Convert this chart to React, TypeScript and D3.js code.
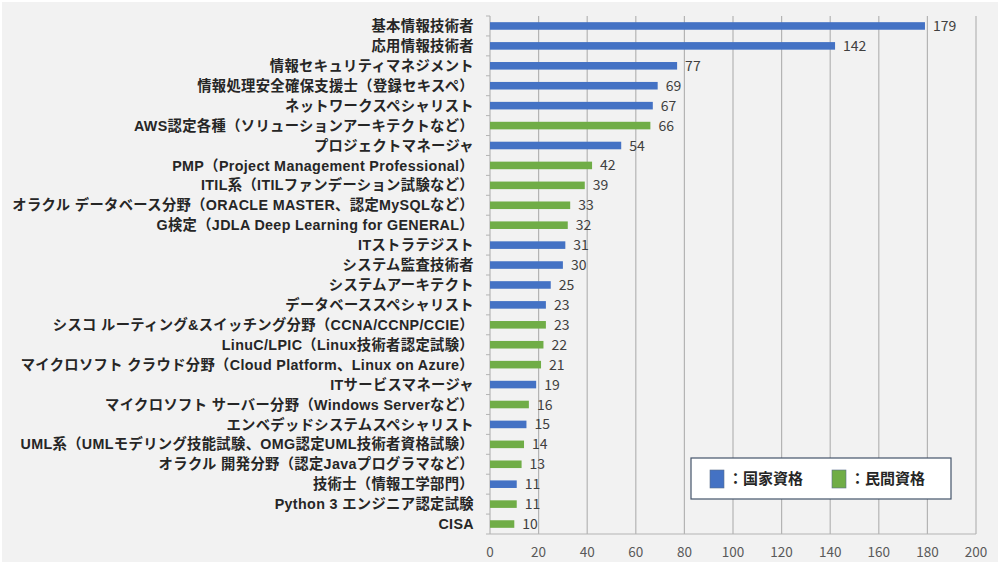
import React from "react";
import * as d3 from "d3";

const categories: string[] = [
  "基本情報技術者",
  "応用情報技術者",
  "情報セキュリティマネジメント",
  "情報処理安全確保支援士（登録セキスペ）",
  "ネットワークスペシャリスト",
  "AWS認定各種（ソリューションアーキテクトなど）",
  "プロジェクトマネージャ",
  "PMP（Project Management Professional）",
  "ITIL系（ITILファンデーション試験など）",
  "オラクル データベース分野（ORACLE MASTER、認定MySQLなど）",
  "G検定（JDLA Deep Learning for GENERAL）",
  "ITストラテジスト",
  "システム監査技術者",
  "システムアーキテクト",
  "データベーススペシャリスト",
  "シスコ ルーティング&スイッチング分野（CCNA/CCNP/CCIE）",
  "LinuC/LPIC（Linux技術者認定試験）",
  "マイクロソフト クラウド分野（Cloud Platform、Linux on Azure）",
  "ITサービスマネージャ",
  "マイクロソフト サーバー分野（Windows Serverなど）",
  "エンベデッドシステムスペシャリスト",
  "UML系（UMLモデリング技能試験、OMG認定UML技術者資格試験）",
  "オラクル 開発分野（認定Javaプログラマなど）",
  "技術士（情報工学部門）",
  "Python 3 エンジニア認定試験",
  "CISA",
];

const values: number[] = [
  179, 142, 77, 69, 67, 66, 54, 42, 39, 33, 32, 31, 30, 25, 23, 23, 22, 21, 19,
  16, 15, 14, 13, 11, 11, 10,
];

// "national" = 国家資格, "private" = 民間資格
const types: string[] = [
  "national", "national", "national", "national", "national", "private",
  "national", "private", "private", "private", "private", "national",
  "national", "national", "national", "private", "private", "private",
  "national", "private", "national", "private", "private", "national",
  "private", "private",
];

const xTicks: number[] = [0, 20, 40, 60, 80, 100, 120, 140, 160, 180, 200];
const legendLabels: string[] = ["：国家資格", "：民間資格"];
const legendKeys: string[] = ["national", "private"];

const W = 1000;
const H = 564;
const M = { left: 490, right: 24, top: 16, bottom: 30 };

export default function App() {
  const x = d3.scaleLinear().domain([0, 200]).range([M.left, W - M.right]);
  const y = d3
    .scaleBand<string>()
    .domain(categories)
    .range([M.top, H - M.bottom])
    .paddingInner(0.62)
    .paddingOuter(0.31);
  const color = d3
    .scaleOrdinal<string, string>()
    .domain(["national", "private"])
    .range(["#4472c4", "#70ad47"]);

  const step = y.step();
  const y0 = M.top;
  const y1 = H - M.bottom;
  const font = "'Noto Sans CJK JP', 'Noto Sans', sans-serif";
  const labelFont = "'Liberation Sans', 'Noto Sans CJK JP', sans-serif";
  const boundaries = d3.range(categories.length + 1).map((i) => y0 + i * step);

  return (
    <svg
      width={W}
      height={H}
      style={{ position: "absolute", left: 0, top: 0, display: "block" }}
      fontFamily={font}
    >
      <rect x={0} y={0} width={W} height={H} fill="#ffffff" />
      <rect x={2} y={2} width={W - 4} height={H - 4} fill="#f2f2f2" />

      {/* gridlines */}
      {xTicks.slice(1).map((t) => (
        <line
          key={"g" + t}
          x1={x(t)}
          x2={x(t)}
          y1={y0}
          y2={y1}
          stroke="#b4b4b4"
          strokeWidth={1.2}
        />
      ))}

      {/* left axis */}
      <line x1={x(0)} x2={x(0)} y1={y0} y2={y1} stroke="#b4b4b4" strokeWidth={1.2} />
      {boundaries.map((b, i) => (
        <line
          key={"t" + i}
          x1={x(0) - 4}
          x2={x(0)}
          y1={b}
          y2={b}
          stroke="#b4b4b4"
          strokeWidth={1}
        />
      ))}
      {/* bottom axis */}
      <line x1={x(0)} x2={x(200)} y1={y1} y2={y1} stroke="#b4b4b4" strokeWidth={1.2} />

      {/* bars */}
      {categories.map((c, i) => (
        <rect
          key={"b" + i}
          x={x(0)}
          y={y(c)!}
          width={x(values[i]) - x(0)}
          height={y.bandwidth()}
          fill={color(types[i])}
        />
      ))}

      {/* value labels */}
      {categories.map((c, i) => (
        <text
          key={"v" + i}
          x={x(values[i]) + 8}
          y={y(c)! + y.bandwidth() / 2}
          dy="0.36em"
          fontSize={14}
          fill="#404040"
        >
          {values[i]}
        </text>
      ))}

      {/* category labels */}
      {categories.map((c, i) => (
        <text
          key={"c" + i}
          x={474}
          y={y(c)! + y.bandwidth() / 2}
          dy="0.36em"
          fontSize={14.3}
          fontWeight={700}
          letterSpacing={0.35}
          textAnchor="end"
          fill="#262626"
          fontFamily={labelFont}
        >
          {c}
        </text>
      ))}

      {/* x tick labels */}
      {xTicks.map((t) => (
        <text
          key={"x" + t}
          x={x(t)}
          y={y1 + 18}
          dy="0.36em"
          fontSize={13.5}
          textAnchor="middle"
          fill="#595959"
        >
          {t}
        </text>
      ))}

      {/* legend */}
      <g>
        <rect x={691} y={458} width={260} height={41} fill="#ffffff" stroke="#44546a" strokeWidth={1.2} />
        {legendKeys.map((k, i) => (
          <g key={"l" + k} transform={`translate(${710 + i * 122},0)`}>
            <rect x={0} y={470} width={14} height={18} fill={color(k)} stroke="#5a6e8c" strokeWidth={0.6} />
            <text x={18} y={479} dy="0.36em" fontSize={15} fontWeight={700} fill="#262626">
              {legendLabels[i]}
            </text>
          </g>
        ))}
      </g>
    </svg>
  );
}
